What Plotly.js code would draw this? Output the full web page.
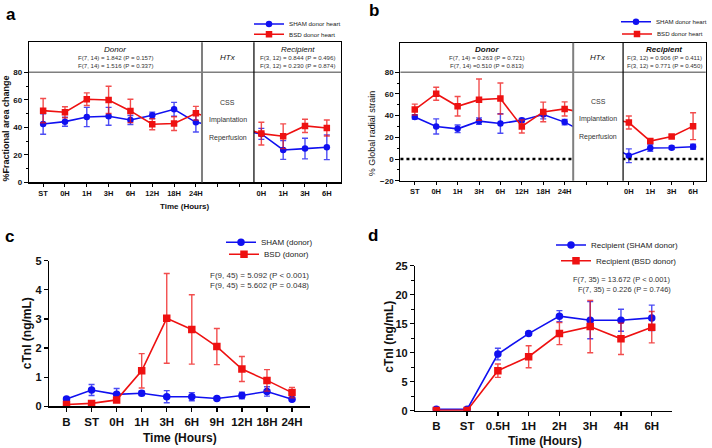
<!DOCTYPE html>
<html><head><meta charset="utf-8">
<script src="https://cdn.plot.ly/plotly-3.0.1.min.js"></script>
<style>html,body{margin:0;padding:0;background:#fff}#chart{width:712px;height:448px}</style>
</head><body><div id="chart"></div>
<script>
// ---------- Panel a: % fractional area change ----------
const ticksA = ['ST','0H','1H','3H','6H','12H','18H','24H','','','0H','1H','3H','6H'];
const shamFAC    = [42.4,44.1,47.5,48.0,45.3,48.7,53.1,43.6,null,null,35.2,23.5,24.5,25.5];
const shamFACerr = [7.5,3.3,7.0,6.5,3.3,2.3,5.0,7.0,null,null,4.0,6.8,7.5,9.0];
const bsdFAC     = [52.1,50.9,60.4,59.9,51.9,42.2,42.7,50.2,null,null,35.4,33.5,41.0,39.5];
const bsdFACerr  = [8.8,4.0,4.6,9.9,8.5,4.0,5.0,5.0,null,null,8.3,9.0,4.8,5.8];
// ---------- Panel b: % global radial strain ----------
const ticksB = ['ST','0H','1H','3H','6H','12H','18H','24H','','','0H','1H','3H','6H'];
const shamGRS    = [38.8,30.0,27.8,34.9,32.7,35.8,41.0,34.0,null,null,3.0,10.1,10.4,11.3];
const shamGRSerr = [2.0,7.0,3.5,3.0,9.0,1.5,4.0,2.5,null,null,6.3,3.0,1.5,2.3];
const bsdGRS     = [45.6,60.2,48.6,54.7,55.7,30.0,43.4,46.2,null,null,33.6,16.5,20.8,30.3];
const bsdGRSerr  = [5.0,6.0,9.0,19.0,14.3,6.0,9.0,6.5,null,null,6.0,2.0,1.5,12.4];
// ---------- Panel c: donor cTnI ----------
const timesC = ['B','ST','0H','1H','3H','6H','9H','12H','18H','24H'];
const shamDonorTnI    = [0.25,0.56,0.41,0.45,0.33,0.33,0.27,0.37,0.51,0.24];
const shamDonorTnIerr = [0.05,0.19,0.20,0.08,0.21,0.14,0.05,0.11,0.16,0.05];
const bsdDonorTnI     = [0.06,0.10,0.22,1.22,3.02,2.64,2.05,1.28,0.89,0.47];
const bsdDonorTnIerr  = [0.06,0.04,0.04,0.59,1.54,1.19,0.62,0.43,0.37,0.18];
// ---------- Panel d: recipient cTnI ----------
const timesD = ['B','ST','0.5H','1H','2H','3H','4H','6H'];
const recShamTnI    = [0.23,0.23,9.77,13.3,16.3,15.6,15.6,16.0];
const recShamTnIerr = [0.2,0.2,1.0,0.3,0.95,3.2,1.9,2.2];
const recBsdTnI     = [0.05,0.05,6.9,9.3,13.3,14.5,12.4,14.4];
const recBsdTnIerr  = [0.1,0.1,1.15,1.9,1.9,4.5,2.7,2.7];

const FONT = 'Arial, "Liberation Sans", sans-serif';
const BLUE = '#1010f0', RED = '#ee1111';
const BLUE_E = 'rgba(16,16,240,0.75)', RED_E = 'rgba(238,17,17,0.75)';
const W = 712, H = 448;
const X = px => px / W, Y = py => 1 - py / H;

function series(x, y, err, color, ecolor, symbol, name, xa, ya, leg, size) {
  return {
    type: 'scatter', mode: 'lines+markers', x: x, y: y, name: name,
    xaxis: xa, yaxis: ya, legend: leg, connectgaps: true,
    line: {color: color, width: 1.6},
    marker: {color: color, symbol: symbol, size: size},
    error_y: {type: 'data', array: err, symmetric: true, color: ecolor, thickness: 1.4, width: 3}
  };
}
const idxA = ticksA.map((t, i) => i);
const idxB = ticksB.map((t, i) => i);

const data = [
  series(idxA, shamFAC, shamFACerr, BLUE, BLUE_E, 'circle', 'SHAM donor heart', 'x', 'y', 'legend', 6.5),
  series(idxA, bsdFAC, bsdFACerr, RED, RED_E, 'square', 'BSD donor heart', 'x', 'y', 'legend2', 6.5),
  series(idxB, shamGRS, shamGRSerr, BLUE, BLUE_E, 'circle', 'SHAM donor heart', 'x2', 'y2', 'legend3', 6.5),
  series(idxB, bsdGRS, bsdGRSerr, RED, RED_E, 'square', 'BSD donor heart', 'x2', 'y2', 'legend4', 6.5),
  series(timesC, shamDonorTnI, shamDonorTnIerr, BLUE, BLUE_E, 'circle', 'SHAM (donor)', 'x3', 'y3', 'legend5', 7.5),
  series(timesC, bsdDonorTnI, bsdDonorTnIerr, RED, RED_E, 'square', 'BSD (donor)', 'x3', 'y3', 'legend6', 7.5),
  series(timesD, recShamTnI, recShamTnIerr, BLUE, BLUE_E, 'circle', 'Recipient (SHAM donor)', 'x4', 'y4', 'legend7', 7.5),
  series(timesD, recBsdTnI, recBsdTnIerr, RED, RED_E, 'square', 'Recipient (BSD donor)', 'x4', 'y4', 'legend8', 7.5)
];

function xAxisAB(dom, rng, vals, text, anchor) {
  return {domain: dom, range: rng, anchor: anchor, tickmode: 'array', tickvals: vals, ticktext: text,
    ticks: 'outside', ticklen: 3, tickwidth: 1, tickcolor: '#000', showline: true, mirror: true,
    linecolor: '#000', linewidth: 1.2, showgrid: false, zeroline: false,
    tickfont: {family: FONT, size: 7.5, weight: 700, color: '#111'}};
}
function yAxisAB(dom, rng, vals, minorVals, anchor) {
  return {domain: dom, range: rng, anchor: anchor, tickmode: 'array', tickvals: vals,
    ticks: 'outside', ticklen: 4, tickwidth: 1, tickcolor: '#000', showline: true, mirror: true,
    linecolor: '#000', linewidth: 1.2, showgrid: false, zeroline: false,
    minor: {tickvals: minorVals, ticks: 'outside', ticklen: 2, tickcolor: '#000', showgrid: false},
    tickfont: {family: FONT, size: 8, weight: 700, color: '#111'}};
}
function xAxisCD(dom, rng, cats, anchor) {
  return {domain: dom, range: rng, anchor: anchor, type: 'category', categoryorder: 'array', categoryarray: cats,
    ticks: 'outside', ticklen: 4, tickwidth: 1.3, tickcolor: '#000', showline: true,
    linecolor: '#000', linewidth: 1.5, showgrid: false, zeroline: false,
    tickfont: {family: FONT, size: 11.5, weight: 700, color: '#111'}};
}
function yAxisCD(dom, rng, dtick, minor, anchor) {
  const a = {domain: dom, range: rng, anchor: anchor, tick0: 0, dtick: dtick,
    ticks: 'outside', ticklen: 4, tickwidth: 1.3, tickcolor: '#000', showline: true,
    linecolor: '#000', linewidth: 1.5, showgrid: false, zeroline: false,
    tickfont: {family: FONT, size: 11, weight: 700, color: '#111'}};
  if (minor) a.minor = {dtick: minor, tick0: minor, ticks: 'outside', ticklen: 2.5, tickcolor: '#000', showgrid: false};
  return a;
}

const aDiv1 = 7.28, aDiv2 = 9.66, bDiv1 = 7.40, bDiv2 = 9.73;

function ann(text, x, y, size, opts) {
  return Object.assign({text: text, x: X(x), y: Y(y), xref: 'paper', yref: 'paper', showarrow: false,
    xanchor: 'center', yanchor: 'middle', font: {family: FONT, size: size, color: '#111'}}, opts || {});
}
const it = (s) => '<i>' + s + '</i>';
const bi = (s) => '<b><i>' + s + '</i></b>';
const GREY = '#333';

const annotations = [
  ann('<b>a</b>', 11, 14.5, 17, {font: {family: FONT, size: 17, color: '#000'}}),
  ann('<b>b</b>', 375, 11, 17, {font: {family: FONT, size: 17, color: '#000'}}),
  ann('<b>c</b>', 10, 236.5, 17, {font: {family: FONT, size: 17, color: '#000'}}),
  ann('<b>d</b>', 374, 235.5, 17, {font: {family: FONT, size: 17, color: '#000'}}),
  // panel a headers
  ann(it('Donor'), 115.6, 49, 8),
  ann('F(7, 14) = 1.842 (P = 0.157)', 115.6, 57.3, 6.1, {font: {family: FONT, size: 6.1, color: GREY}}),
  ann('F(7, 14) = 1.516 (P = 0.337)', 115.6, 65.7, 6.1, {font: {family: FONT, size: 6.1, color: GREY}}),
  ann(it('HTx'), 228.3, 57.3, 8),
  ann(it('Recipient'), 298, 49, 8),
  ann('F(3, 12) = 0.844 (P = 0.496)', 298, 57.3, 6.1, {font: {family: FONT, size: 6.1, color: GREY}}),
  ann('F(3, 12) = 0.230 (P = 0.874)', 298, 65.7, 6.1, {font: {family: FONT, size: 6.1, color: GREY}}),
  ann('CSS', 228.3, 102.3, 7, {font: {family: FONT, size: 7, color: GREY}}),
  ann('Implantation', 228.3, 120.3, 7, {font: {family: FONT, size: 7, color: GREY}}),
  ann('Reperfusion', 228.3, 138.3, 7, {font: {family: FONT, size: 7, color: GREY}}),
  ann('<b>%Fractional area change</b>', 6.5, 128, 9, {textangle: -90}),
  ann('<b>Time (Hours)</b>', 185, 206, 8),
  // panel b headers
  ann(bi('Donor'), 487.5, 49, 8),
  ann('F(7, 14) = 0.263 (P = 0.721)', 487.5, 57.3, 6.1, {font: {family: FONT, size: 6.1, color: GREY}}),
  ann('F(7, 14) =0.510 (P = 0.813)', 487.5, 65, 6.1, {font: {family: FONT, size: 6.1, color: GREY}}),
  ann(it('HTx'), 599, 57.3, 8),
  ann(bi('Recipient'), 665.3, 49, 8),
  ann('F(3, 12) = 0.906 (P = 0.411)', 665.3, 57.3, 6.1, {font: {family: FONT, size: 6.1, color: GREY}}),
  ann('F(3, 12) = 0.771 (P = 0.450)', 665.3, 65, 6.1, {font: {family: FONT, size: 6.1, color: GREY}}),
  ann('CSS', 599, 101.7, 7, {font: {family: FONT, size: 7, color: GREY}}),
  ann('Implantation', 599, 119.3, 7, {font: {family: FONT, size: 7, color: GREY}}),
  ann('Reperfusion', 599, 137, 7, {font: {family: FONT, size: 7, color: GREY}}),
  ann('% Global radial strain', 372.7, 133, 9, {textangle: -90}),
  // panel c
  ann('F(9, 45) = 5.092 (P &lt; 0.001)', 311, 275.5, 8, {xanchor: 'right', font: {family: FONT, size: 8, color: GREY}}),
  ann('F(9, 45) = 5.602 (P = 0.048)', 311, 285.3, 8, {xanchor: 'right', font: {family: FONT, size: 8, color: GREY}}),
  ann('<b>Time (Hours)</b>', 180.3, 438.3, 12),
  ann('<b>cTnI (ng/mL)</b>', 26.7, 333.5, 12, {textangle: -90}),
  // panel d
  ann('F(7, 35) = 13.672 (P &lt; 0.001)', 674.3, 279.3, 7.5, {xanchor: 'right', font: {family: FONT, size: 7.5, color: GREY}}),
  ann('F(7, 35) = 0.226 (P = 0.746)', 674.3, 289.3, 7.5, {xanchor: 'right', font: {family: FONT, size: 7.5, color: GREY}}),
  ann('<b>Time (Hours)</b>', 545.3, 441, 12),
  ann('<b>cTnI (ng/mL)</b>', 389.3, 337, 12, {textangle: -90})
];

function htxShapes(xa, ya, d1, d2, withZero) {
  const s = [];
  if (withZero) s.push({type: 'line', xref: xa + ' domain', yref: ya, x0: 0, x1: 1, y0: 0, y1: 0,
    line: {color: '#000', width: 2.4, dash: 'dot'}});
  s.push({type: 'rect', xref: xa, yref: ya + ' domain', x0: d1, x1: d2, y0: 0.008, y1: 0.995,
    fillcolor: '#fff', line: {width: 0}});
  s.push({type: 'line', xref: xa + ' domain', yref: ya, x0: 0, x1: 1, y0: 80, y1: 80,
    line: {color: '#7f7f7f', width: 1.6}});
  s.push({type: 'line', xref: xa, yref: ya + ' domain', x0: d1, x1: d1, y0: 0, y1: 1,
    line: {color: '#7f7f7f', width: 2}});
  s.push({type: 'line', xref: xa, yref: ya + ' domain', x0: d2, x1: d2, y0: 0, y1: 1,
    line: {color: '#000', width: 1.2}});
  return s;
}

function leg(x, y, size) {
  return {x: X(x), y: Y(y), xref: 'paper', yref: 'paper', xanchor: 'left', yanchor: 'middle',
    bgcolor: 'rgba(0,0,0,0)', borderwidth: 0, itemwidth: 30,
    font: {family: FONT, size: size, color: '#222'}};
}

const layout = {
  width: W, height: H, margin: {l: 0, r: 0, t: 0, b: 0},
  paper_bgcolor: '#fff', plot_bgcolor: 'rgba(0,0,0,0)', font: {family: FONT},
  showlegend: true,
  xaxis: xAxisAB([X(29), X(341.7)], [-0.65, 13.66], idxA, ticksA, 'y'),
  yaxis: yAxisAB([Y(182.3), Y(42.3)], [0, 101.8], [0, 20, 40, 60, 80], [10, 30, 50, 70], 'x'),
  xaxis2: xAxisAB([X(401), X(706.7)], [-0.67, 13.59], idxB, ticksB, 'y2'),
  yaxis2: yAxisAB([Y(180.7), Y(42.7)], [-20, 107.2], [-20, 0, 20, 40, 60, 80], [-10, 10, 30, 50, 70], 'x2'),
  xaxis3: xAxisCD([X(49.3), X(310)], [-0.69, 9.7], timesC, 'y3'),
  yaxis3: yAxisCD([Y(406.3), Y(260.7)], [0, 5], 1, null, 'x3'),
  xaxis4: xAxisCD([X(416), X(672.7)], [-0.68, 7.65], timesD, 'y4'),
  yaxis4: yAxisCD([Y(410.7), Y(265.7)], [0, 25], 5, 2.5, 'x4'),
  annotations: annotations,
  shapes: [].concat(htxShapes('x', 'y', aDiv1, aDiv2, false), htxShapes('x2', 'y2', bDiv1, bDiv2, true)),
  legend: leg(249, 24, 6.2),
  legend2: leg(249, 34.3, 6.2),
  legend3: leg(617, 21.7, 6.1),
  legend4: leg(617, 34, 6.1),
  legend5: leg(221, 242.3, 8),
  legend6: leg(224, 254.3, 8),
  legend7: leg(551, 245, 8),
  legend8: leg(556, 260.7, 8)
};

Plotly.newPlot('chart', data, layout, {staticPlot: true, displayModeBar: false});
</script>
</body></html>
